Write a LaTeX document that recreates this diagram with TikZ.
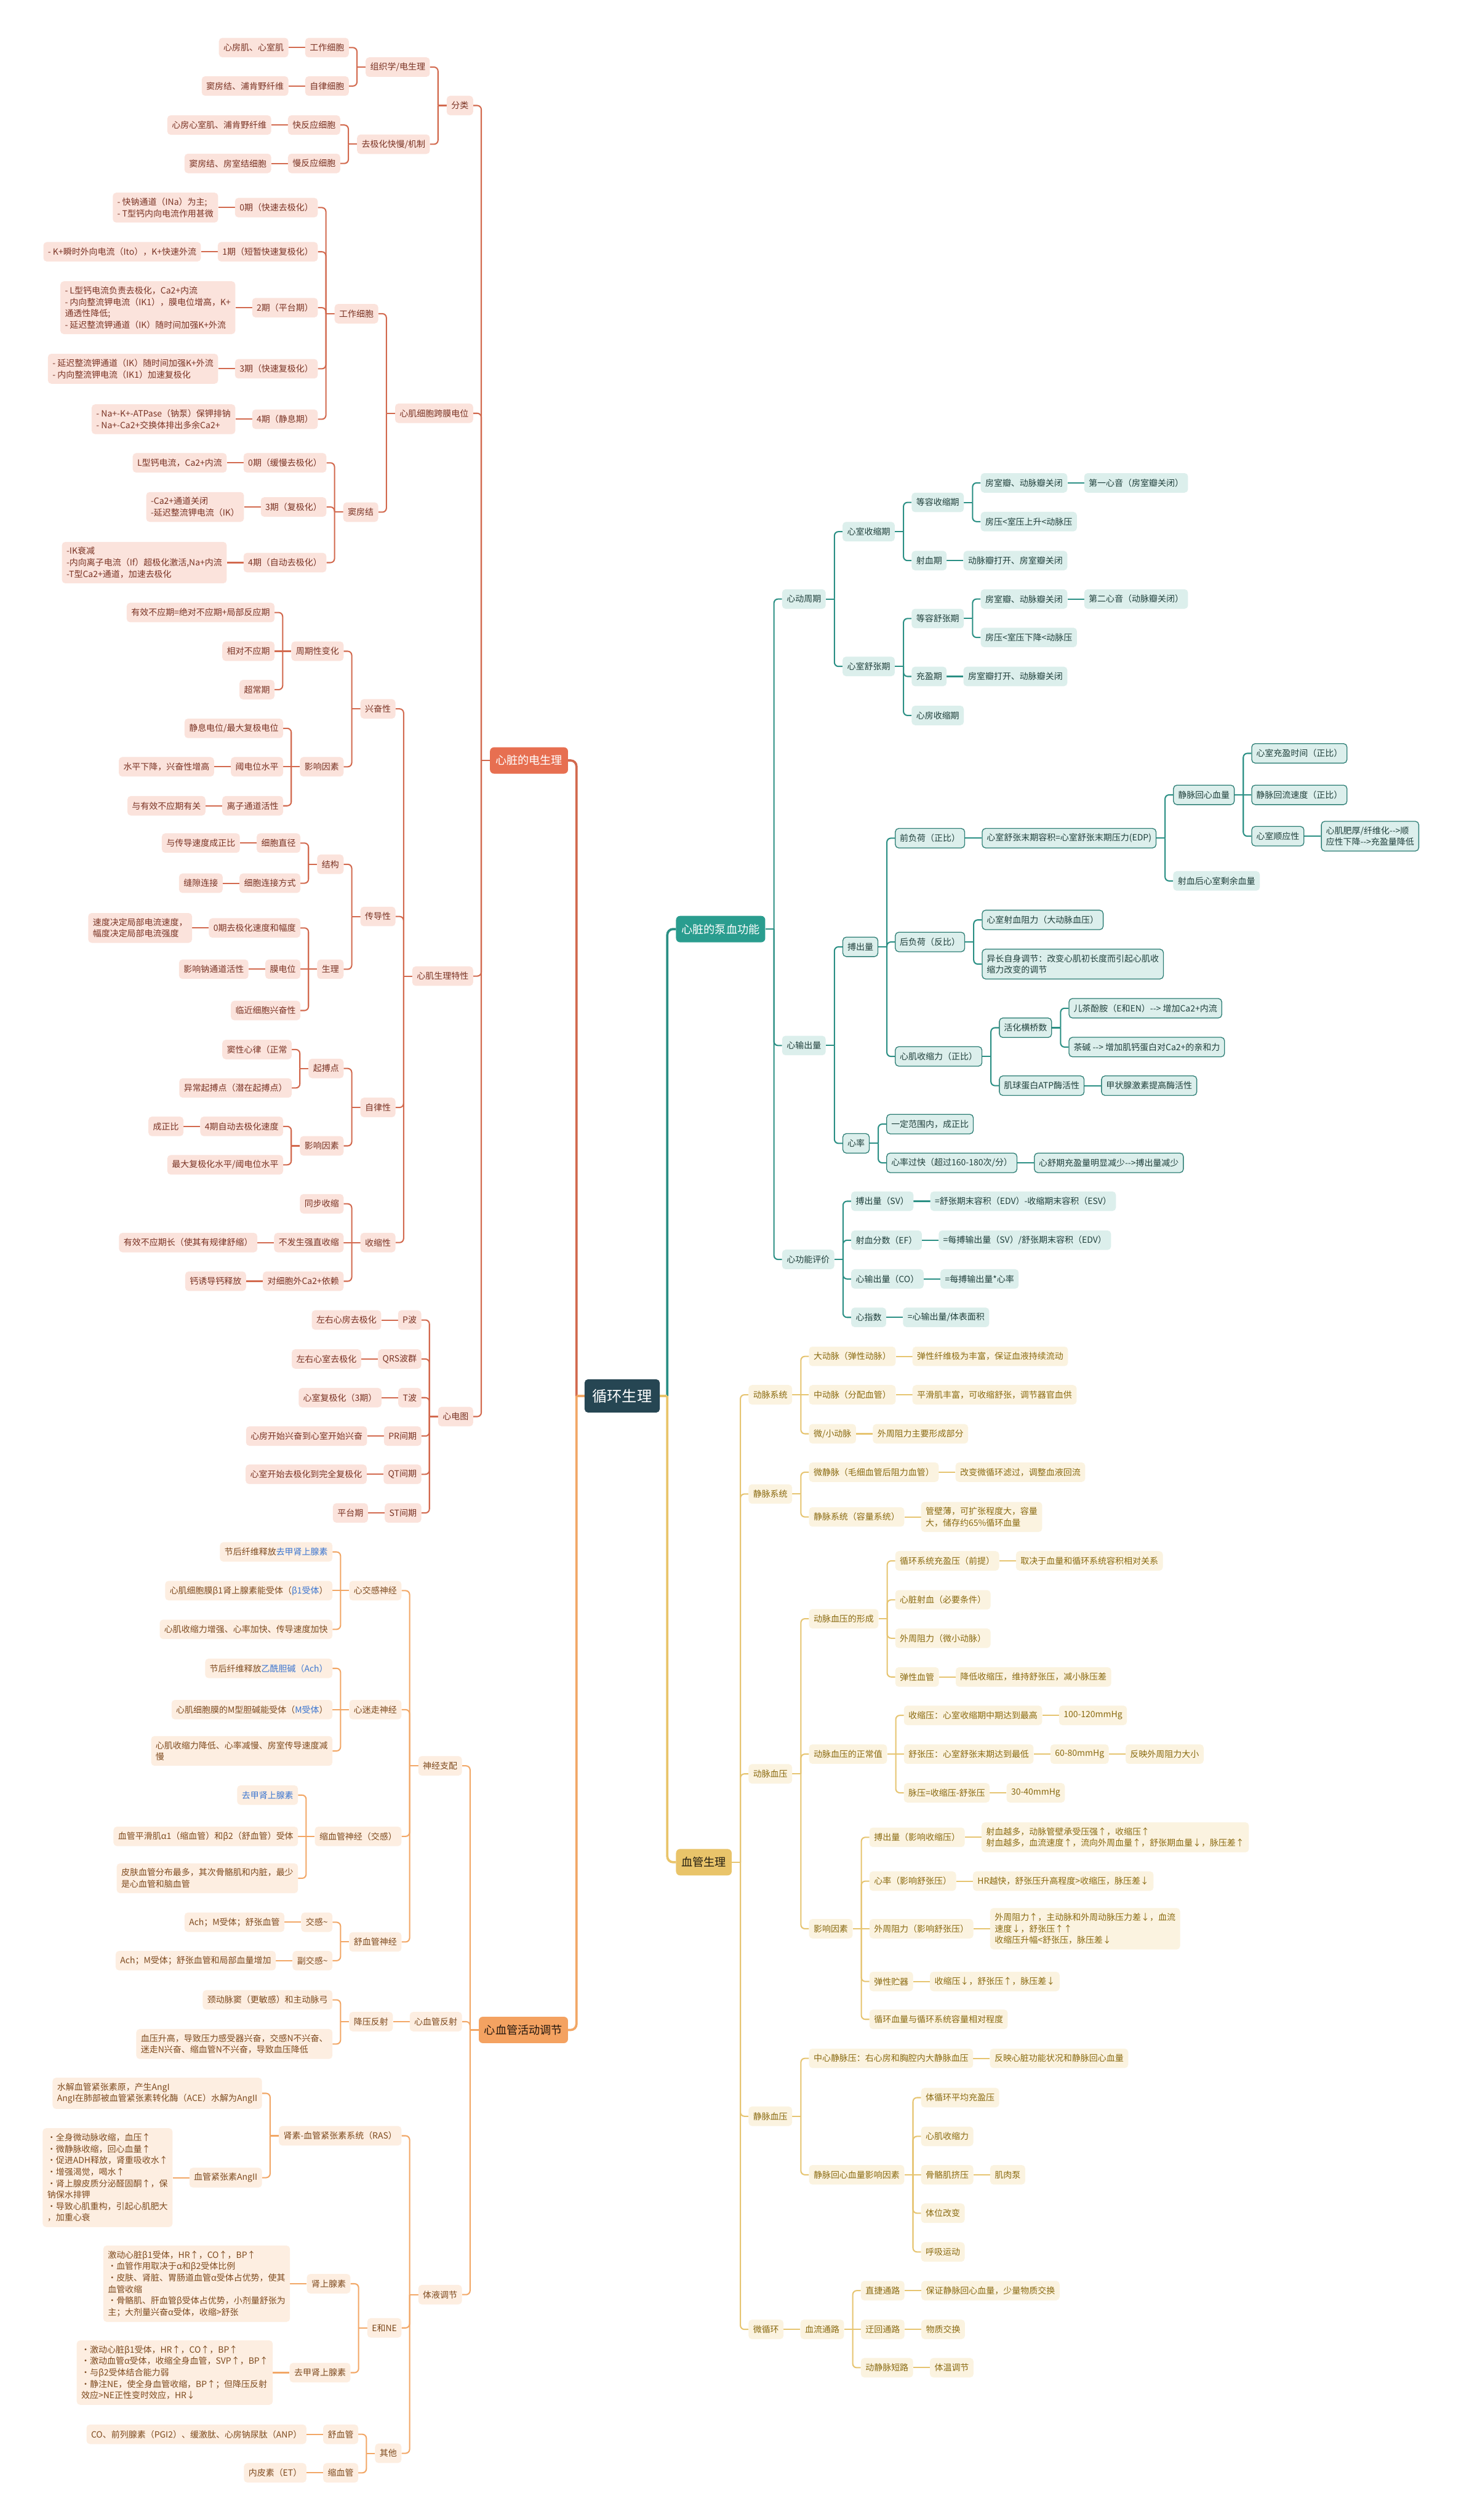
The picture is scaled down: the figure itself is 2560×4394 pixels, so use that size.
\documentclass[tikz,border=0pt]{standalone}
\usepackage{fontspec}
\newfontfamily\cjk{Noto Sans CJK SC}
\usetikzlibrary{calc}
\pgfdeclarelayer{bgfill}
\pgfdeclarelayer{bg}
\pgfsetlayers{bgfill,bg,main}
\definecolor{rootc}{HTML}{264653}
\definecolor{Ec}{HTML}{E76F51}
\definecolor{Pc}{HTML}{2A9D8F}
\definecolor{Gc}{HTML}{E9C46A}
\definecolor{Cc}{HTML}{F4A261}
\definecolor{rfill}{HTML}{FBE3DC}
\definecolor{rtext}{HTML}{7A3324}
\definecolor{rlc}{HTML}{D2694E}
\definecolor{ofill}{HTML}{FDEEE1}
\definecolor{otext}{HTML}{7E4A1E}
\definecolor{olc}{HTML}{F2A766}
\definecolor{tfill}{HTML}{DCEFEC}
\definecolor{ttext}{HTML}{1F3F3B}
\definecolor{tlc}{HTML}{2A8F84}
\definecolor{tborder}{HTML}{2E7F76}
\definecolor{gfill}{HTML}{FBF3E0}
\definecolor{gtext}{HTML}{8A6A10}
\definecolor{glc}{HTML}{E6C470}
\definecolor{bluet}{HTML}{3A75D0}
\tikzset{
  mmbase/.style={rounded corners=6pt, inner xsep=8pt, inner ysep=9pt, minimum height=34pt, align=left, font=\cjk\fontsize{15}{20}\selectfont},
  rbox/.style={mmbase, fill=rfill, text=rtext},
  obox/.style={mmbase, fill=ofill, text=otext},
  tbox/.style={mmbase, fill=tfill, text=ttext},
  Tbox/.style={tbox, draw=tborder, line width=1.4pt},
  gbox/.style={mmbase, fill=gfill, text=gtext},
  rline/.style={draw=rlc, line width=2.2pt, rounded corners=7pt},
  oline/.style={draw=olc, line width=2.2pt, rounded corners=7pt},
  tline/.style={draw=tlc, line width=2.2pt, rounded corners=7pt},
  Tline/.style={tline},
  gline/.style={draw=glc, line width=2.2pt, rounded corners=7pt},
  mainbox/.style={rounded corners=7pt, inner xsep=9.5pt, inner ysep=6pt, minimum height=46pt, font=\cjk\fontsize{19.5}{22}\selectfont},
  Ebox/.style={mainbox, fill=Ec, text=white},
  Cbox/.style={mainbox, fill=Cc, text=black!75!Cc!60!black},
  Pbox/.style={mainbox, fill=Pc, text=white},
  Gbox/.style={mainbox, fill=Gc, text=black!70!Gc!50!black},
  rootbox/.style={rounded corners=6pt, inner xsep=13.5pt, inner ysep=8pt, minimum height=58pt, fill=rootc, text=white, font=\cjk\fontsize{26}{30}\selectfont},
  mline/.style={line width=4pt, rounded corners=10pt}
}
% left child with bus
\newcommand\mmL[5]{%
  \node[#1box,anchor=east,xshift=-29pt] (#3) at (#2.west |- 0,#4) {#5};
  \begin{pgfonlayer}{bg}
  \draw[#1line] (#3.east) -| ([xshift=-15pt]#2.west);
  \draw[#1line] ([xshift=-15pt]#2.west) -- (#2.west);
  \end{pgfonlayer}}
% left child straight
\newcommand\mmLs[4]{%
  \node[#1box,anchor=east,xshift=-29pt] (#3) at (#2.west) {#4};
  \begin{pgfonlayer}{bg}\draw[#1line] (#3.east) -- (#2.west);\end{pgfonlayer}}
% right child with bus
\newcommand\mmR[5]{%
  \node[#1box,anchor=west,xshift=29pt] (#3) at (#2.east |- 0,#4) {#5};
  \begin{pgfonlayer}{bg}
  \draw[#1line] (#3.west) -| ([xshift=15pt]#2.east);
  \draw[#1line] ([xshift=15pt]#2.east) -- (#2.east);
  \end{pgfonlayer}}
% right child straight
\newcommand\mmRs[4]{%
  \node[#1box,anchor=west,xshift=29pt] (#3) at (#2.east) {#4};
  \begin{pgfonlayer}{bg}\draw[#1line] (#3.west) -- (#2.east);\end{pgfonlayer}}
\begin{document}
\begin{tikzpicture}[x=1pt,y=-1pt]
\begin{pgfonlayer}{bgfill}
\fill[white] (0,0) rectangle (2560,4394);
\end{pgfonlayer}
\useasboundingbox (0,0) rectangle (2560,4394);

\node[rootbox] (root) at (1084.5,2434) {循环生理};
\node[Ebox,anchor=east,xshift=-28.5pt] (E) at (root.west |- 0,1326) {心脏的电生理};
\node[Cbox,anchor=east,xshift=-28.5pt] (C) at (root.west |- 0,3539.5) {心血管活动调节};
\node[Pbox,anchor=west,xshift=28pt] (P) at (root.east |- 0,1620) {心脏的泵血功能};
\node[Gbox,anchor=west,xshift=28pt] (G) at (root.east |- 0,3247) {血管生理};
\begin{pgfonlayer}{bg}
\draw[mline,draw=rlc] (E.east) -| ([xshift=-14pt]root.west);
\draw[mline,draw=olc] (C.east) -| ([xshift=-14pt]root.west);
\draw[mline,draw=olc] ([xshift=-14pt]root.west) -- (root.west);
\draw[mline,draw=tlc] (P.west) -| ([xshift=13pt]root.east);
\draw[mline,draw=Gc] (G.west) -| ([xshift=13pt]root.east);
\draw[mline,draw=Gc] ([xshift=13pt]root.east) -- (root.east);
\end{pgfonlayer}

% ================= 心脏的电生理 =================
\mmL{r}{E}{fl}{184}{分类}
\mmL{r}{E}{kmd}{720.6}{心肌细胞跨膜电位}
\mmL{r}{E}{sltx}{1702}{心肌生理特性}
\mmL{r}{E}{xdt}{2470}{心电图}

\mmL{r}{fl}{zzx}{117}{组织学/电生理}
\mmL{r}{fl}{qjh}{251.5}{去极化快慢/机制}
\mmL{r}{zzx}{gzxb}{83}{工作细胞}
\mmLs{r}{gzxb}{gzxbA}{心房肌、心室肌}
\mmL{r}{zzx}{zlxb}{150}{自律细胞}
\mmLs{r}{zlxb}{zlxbA}{窦房结、浦肯野纤维}
\mmL{r}{qjh}{kfy}{218}{快反应细胞}
\mmLs{r}{kfy}{kfyA}{心房心室肌、浦肯野纤维}
\mmL{r}{qjh}{mfy}{285}{慢反应细胞}
\mmLs{r}{mfy}{mfyA}{窦房结、房室结细胞}

\mmL{r}{kmd}{gz2}{547}{工作细胞}
\mmL{r}{kmd}{dfj}{893}{窦房结}
\mmL{r}{gz2}{p0}{362}{0期（快速去极化）}
\mmLs{r}{p0}{p0A}{- 快钠通道（INa）为主;\\- T型钙内向电流作用甚微}
\mmL{r}{gz2}{p1}{439}{1期（短暂快速复极化）}
\mmLs{r}{p1}{p1A}{- K+瞬时外向电流（Ito），K+快速外流}
\mmL{r}{gz2}{p2}{536.5}{2期（平台期）}
\mmLs{r}{p2}{p2A}{- L型钙电流负责去极化，Ca2+内流\\- 内向整流钾电流（IK1），膜电位增高，K+\\通透性降低;\\- 延迟整流钾通道（IK）随时间加强K+外流}
\mmL{r}{gz2}{p3}{643}{3期（快速复极化）}
\mmLs{r}{p3}{p3A}{- 延迟整流钾通道（IK）随时间加强K+外流\\- 内向整流钾电流（IK1）加速复极化}
\mmL{r}{gz2}{p4}{731}{4期（静息期）}
\mmLs{r}{p4}{p4A}{- Na+-K+-ATPase（钠泵）保钾排钠\\- Na+-Ca2+交换体排出多余Ca2+}

\mmL{r}{dfj}{s0}{807}{0期（缓慢去极化）}
\mmLs{r}{s0}{s0A}{L型钙电流，Ca2+内流}
\mmL{r}{dfj}{s3}{884}{3期（复极化）}
\mmLs{r}{s3}{s3A}{-Ca2+通道关闭\\-延迟整流钾电流（IK）}
\mmL{r}{dfj}{s4}{981}{4期（自动去极化）}
\mmLs{r}{s4}{s4A}{-IK衰减\\-内向离子电流（If）超极化激活,Na+内流\\-T型Ca2+通道，加速去极化}

\mmL{r}{sltx}{xfx}{1236}{兴奋性}
\mmL{r}{sltx}{cdx}{1598}{传导性}
\mmL{r}{sltx}{zlx}{1931}{自律性}
\mmL{r}{sltx}{ssx}{2166.6}{收缩性}

\mmL{r}{xfx}{zqx}{1135.5}{周期性变化}
\mmL{r}{xfx}{yx1}{1337}{影响因素}
\mmL{r}{zqx}{yxb}{1068}{有效不应期=绝对不应期+局部反应期}
\mmLs{r}{zqx}{xdb}{相对不应期}
\mmL{r}{zqx}{ccq}{1202.5}{超常期}
\mmL{r}{yx1}{jxdw}{1270}{静息电位/最大复极电位}
\mmLs{r}{yx1}{ydw}{阈电位水平}
\mmLs{r}{ydw}{ydwA}{水平下降，兴奋性增高}
\mmL{r}{yx1}{lztd}{1405}{离子通道活性}
\mmLs{r}{lztd}{lztdA}{与有效不应期有关}

\mmL{r}{cdx}{jg}{1507}{结构}
\mmL{r}{cdx}{sl}{1690}{生理}
\mmL{r}{jg}{xbzj}{1470}{细胞直径}
\mmLs{r}{xbzj}{xbzjA}{与传导速度成正比}
\mmL{r}{jg}{ljfs}{1540}{细胞连接方式}
\mmLs{r}{ljfs}{ljfsA}{缝隙连接}
\mmL{r}{sl}{q0}{1618}{0期去极化速度和幅度}
\mmLs{r}{q0}{q0A}{速度决定局部电流速度，\\幅度决定局部电流强度}
\mmLs{r}{sl}{mdw}{膜电位}
\mmLs{r}{mdw}{mdwA}{影响钠通道活性}
\mmL{r}{sl}{ljxb}{1762}{临近细胞兴奋性}

\mmL{r}{zlx}{qbd}{1863}{起搏点}
\mmL{r}{zlx}{yx2}{1998}{影响因素}
\mmL{r}{qbd}{dxxl}{1830}{窦性心律（正常}
\mmL{r}{qbd}{ycqb}{1897}{异常起搏点（潜在起搏点）}
\mmL{r}{yx2}{q4}{1964}{4期自动去极化速度}
\mmLs{r}{q4}{q4A}{成正比}
\mmL{r}{yx2}{zdfj}{2031}{最大复极化水平/阈电位水平}

\mmL{r}{ssx}{tbss}{2099}{同步收缩}
\mmLs{r}{ssx}{bfs}{不发生强直收缩}
\mmLs{r}{bfs}{bfsA}{有效不应期长（使其有规律舒缩）}
\mmL{r}{ssx}{dxb}{2234}{对细胞外Ca2+依赖}
\mmLs{r}{dxb}{dxbA}{钙诱导钙释放}

\mmL{r}{xdt}{pb}{2301.6}{P波}
\mmLs{r}{pb}{pbA}{左右心房去极化}
\mmL{r}{xdt}{qrs}{2369.6}{QRS波群}
\mmLs{r}{qrs}{qrsA}{左右心室去极化}
\mmL{r}{xdt}{tb}{2437}{T波}
\mmLs{r}{tb}{tbA}{心室复极化（3期）}
\mmL{r}{xdt}{pr}{2504}{PR间期}
\mmLs{r}{pr}{prA}{心房开始兴奋到心室开始兴奋}
\mmL{r}{xdt}{qtj}{2570.6}{QT间期}
\mmLs{r}{qtj}{qtjA}{心室开始去极化到完全复极化}
\mmL{r}{xdt}{stj}{2638}{ST间期}
\mmLs{r}{stj}{stjA}{平台期}

% ================= 心血管活动调节 =================
\mmL{o}{C}{sjzp}{3079}{神经支配}
\mmL{o}{C}{xgfs}{3525}{心血管反射}
\mmL{o}{C}{tytj}{4001}{体液调节}
\mmL{o}{sjzp}{xjg}{2773.5}{心交感神经}
\mmL{o}{sjzp}{xmz}{2981}{心迷走神经}
\mmL{o}{sjzp}{sxg}{3202}{缩血管神经（交感）}
\mmL{o}{sjzp}{sxgs}{3386}{舒血管神经}
\mmL{o}{xjg}{xjg1}{2706}{节后纤维释放\textcolor{bluet}{去甲肾上腺素}}
\mmLs{o}{xjg}{xjg2}{心肌细胞膜β1肾上腺素能受体（\textcolor{bluet}{β1受体}）}
\mmL{o}{xjg}{xjg3}{2841}{心肌收缩力增强、心率加快、传导速度加快}
\mmL{o}{xmz}{xmz1}{2909}{节后纤维释放\textcolor{bluet}{乙酰胆碱（Ach）}}
\mmLs{o}{xmz}{xmz2}{心肌细胞膜的M型胆碱能受体（\textcolor{bluet}{M受体}）}
\mmL{o}{xmz}{xmz3}{3053}{心肌收缩力降低、心率减慢、房室传导速度减\\慢}
\mmL{o}{sxg}{sxg1}{3130}{\textcolor{bluet}{去甲肾上腺素}}
\mmLs{o}{sxg}{sxg2}{血管平滑肌α1（缩血管）和β2（舒血管）受体}
\mmL{o}{sxg}{sxg3}{3275}{皮肤血管分布最多，其次骨骼肌和内脏，最少\\是心血管和脑血管}
\mmL{o}{sxgs}{jg1}{3351.7}{交感\textasciitilde}
\mmLs{o}{jg1}{jg1A}{Ach；M受体；舒张血管}
\mmL{o}{sxgs}{fjg}{3418.7}{副交感\textasciitilde}
\mmLs{o}{fjg}{fjgA}{Ach；M受体；舒张血管和局部血量增加}

\mmLs{o}{xgfs}{jyfs}{降压反射}
\mmL{o}{jyfs}{jyfs1}{3487}{颈动脉窦（更敏感）和主动脉弓}
\mmL{o}{jyfs}{jyfs2}{3564}{血压升高，导致压力感受器兴奋，交感N不兴奋、\\迷走N兴奋、缩血管N不兴奋，导致血压降低}

\mmL{o}{tytj}{ras}{3724}{肾素-血管紧张素系统（RAS）}
\mmL{o}{tytj}{ene}{4059}{E和NE}
\mmL{o}{tytj}{qt}{4277.6}{其他}
\mmL{o}{ras}{ras1}{3650}{水解血管紧张素原，产生AngI\\AngI在肺部被血管紧张素转化酶（ACE）水解为AngII}
\mmL{o}{ras}{ras2}{3797}{血管紧张素AngII}
\mmLs{o}{ras2}{ras2A}{·全身微动脉收缩，血压↑\\·微静脉收缩，回心血量↑\\·促进ADH释放，肾重吸收水↑\\·增强渴觉，喝水↑\\·肾上腺皮质分泌醛固酮↑，保\\钠保水排钾\\·导致心肌重构，引起心肌肥大\\，加重心衰}
\mmL{o}{ene}{sss}{3982}{肾上腺素}
\mmLs{o}{sss}{sssA}{激动心脏β1受体，HR↑，CO↑，BP↑\\·血管作用取决于α和β2受体比例\\·皮肤、肾脏、胃肠道血管α受体占优势，使其\\血管收缩\\·骨骼肌、肝血管β受体占优势，小剂量舒张为\\主；大剂量兴奋α受体，收缩>舒张}
\mmL{o}{ene}{qjs}{4137}{去甲肾上腺素}
\mmLs{o}{qjs}{qjsA}{·激动心脏β1受体，HR↑，CO↑，BP↑\\·激动血管α受体，收缩全身血管，SVP↑，BP↑\\·与β2受体结合能力弱\\·静注NE，使全身血管收缩，BP↑；但降压反射\\效应>NE正性变时效应，HR↓}
\mmL{o}{qt}{sxg4}{4244.5}{舒血管}
\mmLs{o}{sxg4}{sxg4A}{CO、前列腺素（PGI2）、缓激肽、心房钠尿肽（ANP）}
\mmL{o}{qt}{sxg5}{4311.7}{缩血管}
\mmLs{o}{sxg5}{sxg5A}{内皮素（ET）}

% ================= 心脏的泵血功能 =================
\mmR{t}{P}{xdzq}{1044.5}{心动周期}
\mmR{t}{P}{xscl}{1823}{心输出量}
\mmR{t}{P}{xgnpj}{2196}{心功能评价}
\mmR{t}{xdzq}{xsss}{927}{心室收缩期}
\mmR{t}{xdzq}{xssz}{1162}{心室舒张期}
\mmR{t}{xsss}{drss}{876}{等容收缩期}
\mmR{t}{xsss}{sxq}{977.5}{射血期}
\mmR{t}{drss}{fsb1}{842}{房室瓣、动脉瓣关闭}
\mmRs{t}{fsb1}{dyxy}{第一心音（房室瓣关闭）}
\mmR{t}{drss}{fy1}{909.5}{房压<室压上升<动脉压}
\mmRs{t}{sxq}{sxqA}{动脉瓣打开、房室瓣关闭}
\mmR{t}{xssz}{drsz}{1078.5}{等容舒张期}
\mmR{t}{xssz}{cyq}{1179.5}{充盈期}
\mmR{t}{xssz}{xfss}{1247.5}{心房收缩期}
\mmR{t}{drsz}{fsb2}{1044.5}{房室瓣、动脉瓣关闭}
\mmRs{t}{fsb2}{dexy}{第二心音（动脉瓣关闭）}
\mmR{t}{drsz}{fy2}{1111.5}{房压<室压下降<动脉压}
\mmRs{t}{cyq}{cyqA}{房室瓣打开、动脉瓣关闭}

\mmR{T}{xscl}{bcl}{1651}{搏出量}
\mmR{T}{xscl}{xl}{1993.6}{心率}
\mmR{T}{bcl}{qfh}{1461.5}{前负荷（正比）}
\mmR{T}{bcl}{hfh}{1642.5}{后负荷（反比）}
\mmR{T}{bcl}{xjssl}{1842}{心肌收缩力（正比）}
\mmRs{T}{qfh}{edp}{心室舒张末期容积=心室舒张末期压力(EDP)}
\mmR{T}{edp}{jmhx}{1386}{静脉回心血量}
\mmR{t}{edp}{sxhs}{1536}{射血后心室剩余血量}
\mmR{T}{jmhx}{cysj}{1313.6}{心室充盈时间（正比）}
\mmRs{T}{jmhx}{hlsd}{静脉回流速度（正比）}
\mmR{T}{jmhx}{sxsyx}{1458}{心室顺应性}
\mmRs{T}{sxsyx}{sxsyxA}{心肌肥厚/纤维化-->顺\\应性下降-->充盈量降低}
\mmR{T}{hfh}{sxzl}{1604}{心室射血阻力（大动脉血压）}
\mmR{T}{hfh}{yczs}{1681}{异长自身调节：改变心肌初长度而引起心肌收\\缩力改变的调节}
\mmR{T}{xjssl}{hhhq}{1792}{活化横桥数}
\mmR{T}{xjssl}{jqdb}{1893}{肌球蛋白ATP酶活性}
\mmR{T}{hhhq}{ecfa}{1758}{儿茶酚胺（E和EN）--> 增加Ca2+内流}
\mmR{T}{hhhq}{cj}{1825.7}{茶碱 --> 增加肌钙蛋白对Ca2+的亲和力}
\mmRs{T}{jqdb}{jzx}{甲状腺激素提高酶活性}
\mmR{T}{xl}{ydfw}{1960}{一定范围内，成正比}
\mmR{T}{xl}{xlgk}{2027.6}{心率过快（超过160-180次/分）}
\mmRs{T}{xlgk}{xlgkA}{心舒期充盈量明显减少-->搏出量减少}
\mmR{t}{xgnpj}{sv}{2094.5}{搏出量（SV）}
\mmRs{t}{sv}{svA}{=舒张期末容积（EDV）-收缩期末容积（ESV）}
\mmR{t}{xgnpj}{ef}{2162.5}{射血分数（EF）}
\mmRs{t}{ef}{efA}{=每搏输出量（SV）/舒张期末容积（EDV）}
\mmR{t}{xgnpj}{co}{2230}{心输出量（CO）}
\mmRs{t}{co}{coA}{=每搏输出量*心率}
\mmR{t}{xgnpj}{xzs}{2297}{心指数}
\mmRs{t}{xzs}{xzsA}{=心输出量/体表面积}

% ================= 血管生理 =================
\mmR{g}{G}{dmxt}{2432}{动脉系统}
\mmR{g}{G}{jmxt}{2605}{静脉系统}
\mmR{g}{G}{dmxy}{3093}{动脉血压}
\mmR{g}{G}{jmxy}{3690}{静脉血压}
\mmR{g}{G}{wxh}{4061.6}{微循环}
\mmR{g}{dmxt}{ddm}{2365}{大动脉（弹性动脉）}
\mmRs{g}{ddm}{ddmA}{弹性纤维极为丰富，保证血液持续流动}
\mmRs{g}{dmxt}{zdm}{中动脉（分配血管）}
\mmRs{g}{zdm}{zdmA}{平滑肌丰富，可收缩舒张，调节器官血供}
\mmR{g}{dmxt}{wdm}{2500}{微/小动脉}
\mmRs{g}{wdm}{wdmA}{外周阻力主要形成部分}
\mmR{g}{jmxt}{wjm}{2567}{微静脉（毛细血管后阻力血管）}
\mmRs{g}{wjm}{wjmA}{改变微循环滤过，调整血液回流}
\mmR{g}{jmxt}{jmrl}{2645}{静脉系统（容量系统）}
\mmRs{g}{jmrl}{jmrlA}{管壁薄，可扩张程度大，容量\\大，储存约65\%循环血量}
\mmR{g}{dmxy}{xc}{2822.5}{动脉血压的形成}
\mmR{g}{dmxy}{zcz}{3058.5}{动脉血压的正常值}
\mmR{g}{dmxy}{yx3}{3363}{影响因素}
\mmR{g}{xc}{cyy}{2721.6}{循环系统充盈压（前提）}
\mmRs{g}{cyy}{cyyA}{取决于血量和循环系统容积相对关系}
\mmR{g}{xc}{xzsx}{2789.5}{心脏射血（必要条件）}
\mmR{g}{xc}{wzzl}{2856.5}{外周阻力（微小动脉）}
\mmR{g}{xc}{txxg}{2924}{弹性血管}
\mmRs{g}{txxg}{txxgA}{降低收缩压，维持舒张压，减小脉压差}
\mmR{g}{zcz}{ssy}{2991}{收缩压：心室收缩期中期达到最高}
\mmRs{g}{ssy}{ssyA}{100-120mmHg}
\mmRs{g}{zcz}{szy}{舒张压：心室舒张末期达到最低}
\mmRs{g}{szy}{szyA}{60-80mmHg}
\mmRs{g}{szyA}{szyB}{反映外周阻力大小}
\mmR{g}{zcz}{my}{3126}{脉压=收缩压-舒张压}
\mmRs{g}{my}{myA}{30-40mmHg}
\mmR{g}{yx3}{bcly}{3203.6}{搏出量（影响收缩压）}
\mmRs{g}{bcly}{bclyA}{射血越多，动脉管壁承受压强↑，收缩压↑\\射血越多，血流速度↑，流向外周血量↑，舒张期血量↓，脉压差↑}
\mmR{g}{yx3}{xly}{3280}{心率（影响舒张压）}
\mmRs{g}{xly}{xlyA}{HR越快，舒张压升高程度>收缩压，脉压差↓}
\mmRs{g}{yx3}{wzy}{外周阻力（影响舒张压）}
\mmRs{g}{wzy}{wzyA}{外周阻力↑，主动脉和外周动脉压力差↓，血流\\速度↓，舒张压↑↑\\收缩压升幅<舒张压，脉压差↓}
\mmR{g}{yx3}{txzq}{3455}{弹性贮器}
\mmRs{g}{txzq}{txzqA}{收缩压↓，舒张压↑，脉压差↓}
\mmR{g}{yx3}{xhxl}{3521}{循环血量与循环系统容量相对程度}
\mmR{g}{jmxy}{zxjm}{3589}{中心静脉压：右心房和胸腔内大静脉血压}
\mmRs{g}{zxjm}{zxjmA}{反映心脏功能状况和静脉回心血量}
\mmR{g}{jmxy}{jmhx2}{3792}{静脉回心血量影响因素}
\mmR{g}{jmhx2}{tpj}{3657.5}{体循环平均充盈压}
\mmR{g}{jmhx2}{xjs2}{3725}{心肌收缩力}
\mmRs{g}{jmhx2}{ggj}{骨骼肌挤压}
\mmRs{g}{ggj}{ggjA}{肌肉泵}
\mmR{g}{jmhx2}{twgb}{3859}{体位改变}
\mmR{g}{jmhx2}{hxyd}{3926.6}{呼吸运动}
\mmRs{g}{wxh}{xltl}{血流通路}
\mmR{g}{xltl}{zjtl}{3994}{直捷通路}
\mmRs{g}{zjtl}{zjtlA}{保证静脉回心血量，少量物质交换}
\mmRs{g}{xltl}{yhtl}{迂回通路}
\mmRs{g}{yhtl}{yhtlA}{物质交换}
\mmR{g}{xltl}{djm}{4128.4}{动静脉短路}
\mmRs{g}{djm}{djmA}{体温调节}
\end{tikzpicture}
\end{document}
